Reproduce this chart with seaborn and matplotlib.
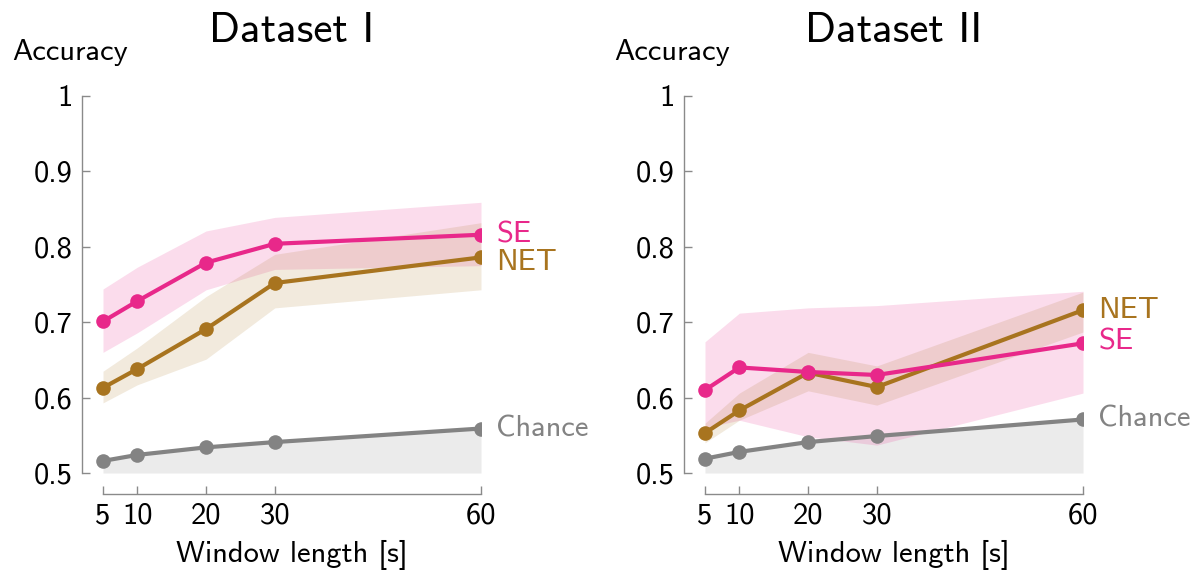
import matplotlib
matplotlib.use("Agg")
import matplotlib.pyplot as plt
import seaborn as sns
import pandas as pd

# Window lengths in seconds
windows = [5, 10, 20, 30, 60]

# Dataset I: mean accuracy and band limits
d1_se = [0.701, 0.728, 0.779, 0.804, 0.816]
d1_se_lo = [0.660, 0.686, 0.743, 0.770, 0.775]
d1_se_hi = [0.744, 0.773, 0.821, 0.839, 0.859]
d1_net = [0.613, 0.638, 0.691, 0.752, 0.786]
d1_net_lo = [0.593, 0.617, 0.651, 0.719, 0.743]
d1_net_hi = [0.635, 0.666, 0.734, 0.790, 0.832]
d1_chance = [0.516, 0.524, 0.534, 0.541, 0.559]

# Dataset II: mean accuracy and band limits
d2_se = [0.610, 0.640, 0.634, 0.630, 0.672]
d2_se_lo = [0.560, 0.570, 0.548, 0.537, 0.606]
d2_se_hi = [0.674, 0.712, 0.719, 0.722, 0.741]
d2_net = [0.553, 0.583, 0.633, 0.614, 0.716]
d2_net_lo = [0.540, 0.570, 0.609, 0.590, 0.687]
d2_net_hi = [0.566, 0.606, 0.660, 0.642, 0.740]
d2_chance = [0.519, 0.528, 0.541, 0.549, 0.571]

titles = ["Dataset I", "Dataset II"]
y_ticks = [0.5, 0.6, 0.7, 0.8, 0.9, 1.0]
y_ticklabels = ["0.5", "0.6", "0.7", "0.8", "0.9", "1"]

SE_COLOR = "#E8288A"
NET_COLOR = "#A8741F"
CHANCE_COLOR = "#838383"
TEXT_SIZE = 22

sns.set_theme(style="white")
plt.rcParams["font.family"] = ["cmss10", "DejaVu Sans"]
plt.rcParams["axes.unicode_minus"] = False
plt.rcParams["mathtext.fontset"] = "cm"

fig = plt.figure(figsize=(11.94, 5.71), dpi=100)
W, H = 1194, 571
AX_W_PX = 399
PAD_PX = 21  # gap between the left spine and the first window


def make_axes(left_px):
    return fig.add_axes([left_px / W, 1 - 494 / H, AX_W_PX / W, (494 - 96) / H])


datasets = [
    dict(se=d1_se, se_lo=d1_se_lo, se_hi=d1_se_hi, net=d1_net, net_lo=d1_net_lo,
         net_hi=d1_net_hi, chance=d1_chance,
         label_dy={"SE": 0, "NET": -4, "Chance": 0}),
    dict(se=d2_se, se_lo=d2_se_lo, se_hi=d2_se_hi, net=d2_net, net_lo=d2_net_lo,
         net_hi=d2_net_hi, chance=d2_chance,
         label_dy={"SE": 1, "NET": 0, "Chance": 0}),
]

x_center = (PAD_PX + AX_W_PX) / 2 / AX_W_PX

for i, (left_px, ds) in enumerate(zip([82, 684], datasets)):
    ax = make_axes(left_px)
    x_per_px = 55 / (AX_W_PX - PAD_PX)
    ax.set_xlim(5 - PAD_PX * x_per_px, 60)
    ax.set_ylim(0.5 - 21 / 754, 1.0)

    # Shaded bands
    ax.fill_between(windows, 0.5, ds["chance"], color="#EBEBEB", lw=0, zorder=1)
    ax.fill_between(windows, ds["se_lo"], ds["se_hi"], color=SE_COLOR, alpha=0.16, lw=0, zorder=1)
    ax.fill_between(windows, ds["net_lo"], ds["net_hi"], color=NET_COLOR, alpha=0.15, lw=0, zorder=1)

    df = pd.DataFrame({
        "window": windows * 3,
        "acc": ds["se"] + ds["net"] + ds["chance"],
        "model": ["SE"] * 5 + ["NET"] * 5 + ["Chance"] * 5,
    })
    sns.lineplot(data=df, x="window", y="acc", hue="model",
                 palette={"SE": SE_COLOR, "NET": NET_COLOR, "Chance": CHANCE_COLOR},
                 hue_order=["Chance", "NET", "SE"],
                 marker="o", markersize=10.5, markeredgewidth=0, linewidth=3.0,
                 legend=False, ax=ax, zorder=3)

    # End-of-line labels
    ends = {"SE": (ds["se"][-1], SE_COLOR), "NET": (ds["net"][-1], NET_COLOR),
            "Chance": (ds["chance"][-1], CHANCE_COLOR)}
    for name, (yv, col) in ends.items():
        ax.annotate(name, xy=(60, yv), xytext=(11, ds["label_dy"][name]),
                    textcoords="offset points",
                    color=col, fontsize=TEXT_SIZE, va="center", ha="left",
                    annotation_clip=False)

    ax.set_xticks(windows)
    ax.set_xticklabels([str(w) for w in windows])
    ax.set_yticks(y_ticks)
    ax.set_yticklabels(y_ticklabels)
    ax.spines["top"].set_visible(False)
    ax.spines["right"].set_visible(False)
    ax.spines["left"].set_bounds(0.5, 1.0)
    ax.spines["bottom"].set_bounds(5, 60)
    for s in ("left", "bottom"):
        ax.spines[s].set_color("#8a8a8a")
        ax.spines[s].set_linewidth(1.0)
    ax.tick_params(axis="both", which="both", direction="in", length=6,
                   width=1.0, color="#8a8a8a", labelsize=TEXT_SIZE, labelcolor="black",
                   bottom=True, left=True)
    ax.tick_params(axis="y", pad=6.5)
    ax.tick_params(axis="x", pad=6)
    ax.set_xlabel("Window length [s]", fontsize=TEXT_SIZE, color="black")
    ax.xaxis.set_label_coords(x_center, -0.115)
    ax.xaxis.label.set_va("top")
    ax.set_ylabel("")
    ax.set_title(titles[i], fontsize=31, pad=39, color="black", x=x_center)
    ax.text(-70 / AX_W_PX, (494 - 52) / (494 - 96), "Accuracy", transform=ax.transAxes,
            fontsize=TEXT_SIZE, ha="left", va="center", color="black")
    ax.patch.set_alpha(0)

fig.savefig("out.png", dpi=100, facecolor="white")
